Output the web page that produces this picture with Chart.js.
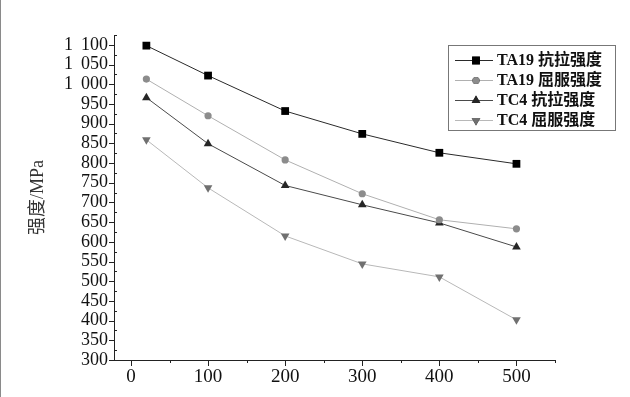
<!DOCTYPE html>
<html lang="zh">
<head>
  <meta charset="UTF-8">
  <title>强度 vs 温度</title>
  <script src="https://cdn.jsdelivr.net/npm/chart.js"></script>
  <style>
    html, body { margin: 0; padding: 0; background: #fff; }
    .wrap { position: relative; width: 630px; height: 397px; }
    .edge { position: absolute; left: 0; top: 0; width: 1px; height: 397px; background: #8a8a8a; }
  </style>
</head>
<body>
  <div class="wrap">
    <canvas id="strengthChart" width="630" height="397"></canvas>
    <div class="edge"></div>
  </div>

  <script>
    // temperatures (x) and strengths (MPa)
    const temps = [20, 100, 200, 300, 400, 500];
    const ta19Tensile = [1098, 1022, 932, 874, 826, 798];
    const ta19Yield = [1013, 920, 808, 722, 656, 633];
    const tc4Tensile = [966, 849, 743, 694, 648, 587];
    const tc4Yield = [859, 737, 615, 544, 511, 402];

    const seriesNames = ['TA19 抗拉强度', 'TA19 屈服强度', 'TC4 抗拉强度', 'TC4 屈服强度'];
    const xTicks = [0, 100, 200, 300, 400, 500];
    const yTicks = [300, 350, 400, 450, 500, 550, 600, 650, 700, 750, 800, 850, 900, 950, 1000, 1050, 1100];

    const serif = "'Liberation Serif', 'Times New Roman', serif";
    const cjk = "'Liberation Serif', 'Noto Sans CJK SC', serif";

    function toPoints(values) {
      return temps.map((t, i) => ({ x: t, y: values[i] }));
    }

    // "1 100" style, a little wider gap after the thousands digit
    function fmtThousands(v) {
      return v >= 1000 ? Math.floor(v / 1000) + ' \u2009' + String(v % 1000).padStart(3, '0') : String(v);
    }

    // major ticks outward, minor ticks (half steps) small
    const tickMarks = {
      id: 'tickMarks',
      afterDraw(chart) {
        const ctx = chart.ctx;
        const xs = chart.scales.x, ys = chart.scales.y;
        const area = chart.chartArea;
        ctx.save();
        ctx.strokeStyle = '#222';
        ctx.lineWidth = 1;
        ctx.beginPath();
        for (let v = 300; v <= 1125; v += 25) {
          const py = Math.round(ys.getPixelForValue(v)) + 0.5;
          if (v % 50 === 0) {
            ctx.moveTo(area.left - 5, py); ctx.lineTo(area.left, py);
          } else {
            ctx.moveTo(area.left, py); ctx.lineTo(area.left + 3, py);
          }
        }
        for (let v = 0; v <= 550; v += 50) {
          const px = Math.round(xs.getPixelForValue(v)) + 0.5;
          if (v % 100 === 0) {
            ctx.moveTo(px, area.bottom); ctx.lineTo(px, area.bottom + 6);
          } else {
            ctx.moveTo(px, area.bottom); ctx.lineTo(px, area.bottom + 3);
          }
        }
        ctx.stroke();
        ctx.restore();
      }
    };

    // boxed legend in the upper right corner
    const boxLegend = {
      id: 'boxLegend',
      afterDraw(chart) {
        const ctx = chart.ctx;
        const left = 448, top = 45, w = 167, h = 85;
        ctx.save();
        ctx.strokeStyle = '#777';
        ctx.lineWidth = 1;
        ctx.strokeRect(left + 0.5, top + 0.5, w, h);
        chart.data.datasets.forEach((ds, i) => {
          const y = top + 15 + i * 20;
          ctx.strokeStyle = ds.borderColor;
          ctx.lineWidth = 1;
          ctx.beginPath();
          ctx.moveTo(left + 7, y + 0.5);
          ctx.lineTo(left + 45, y + 0.5);
          ctx.stroke();
          Chart.helpers.drawPoint(ctx, {
            pointStyle: ds.pointStyle,
            radius: ds.pointRadius,
            rotation: ds.pointRotation || 0,
            borderWidth: 0
          }, left + 28, y + 0.5);
          ctx.fillStyle = ds.pointBackgroundColor;
          ctx.fill();
          ctx.fillStyle = '#111';
          ctx.font = 'bold 16px ' + cjk;
          ctx.textBaseline = 'middle';
          ctx.fillText(ds.label, left + 49, y + 1);
        });
        ctx.restore();
      }
    };

    function makeSet(label, values, line, fill, style, radius, rotation) {
      return {
        label: label,
        data: toPoints(values),
        borderColor: line,
        borderWidth: 1,
        pointStyle: style,
        pointRadius: radius,
        pointRotation: rotation,
        pointBackgroundColor: fill,
        pointBorderColor: fill,
        pointBorderWidth: 0,
        tension: 0
      };
    }

    const ctx = document.getElementById('strengthChart').getContext('2d');
    new Chart(ctx, {
      type: 'line',
      data: {
        datasets: [
          makeSet(seriesNames[0], ta19Tensile, '#2a2a2a', '#000', 'rect', 5.5, 0),
          makeSet(seriesNames[1], ta19Yield, '#b0b0b0', '#8c8c8c', 'circle', 3.6, 0),
          makeSet(seriesNames[2], tc4Tensile, '#4a4a4a', '#262626', 'triangle', 5, 0),
          makeSet(seriesNames[3], tc4Yield, '#b8b8b8', '#707070', 'triangle', 5, 180)
        ]
      },
      options: {
        responsive: false,
        animation: false,
        layout: { padding: { left: 0, right: 75, top: 35, bottom: 0 } },
        plugins: {
          legend: { display: false },
          tooltip: { enabled: false }
        },
        scales: {
          x: {
            type: 'linear',
            min: -22,
            max: 550,
            afterBuildTicks: scale => { scale.ticks = xTicks.map(v => ({ value: v })); },
            afterFit: scale => { scale.height = 37; },
            grid: { display: false, drawTicks: false },
            border: { display: true, color: '#222', width: 1 },
            ticks: {
              padding: 6,
              color: '#111',
              autoSkip: false,
              font: { family: serif, size: 19 },
              maxRotation: 0
            }
          },
          y: {
            min: 300,
            max: 1125,
            afterBuildTicks: scale => { scale.ticks = yTicks.map(v => ({ value: v })); },
            afterFit: scale => { scale.width = 114; },
            grid: { display: false, drawTicks: false },
            border: { display: true, color: '#222', width: 1 },
            title: {
              display: true,
              text: '强度/MPa',
              color: '#333',
              font: { family: cjk, size: 18 },
              padding: { top: 27, bottom: 0 }
            },
            ticks: {
              padding: 6,
              color: '#111',
              autoSkip: false,
              font: { family: serif, size: 18 },
              callback: v => fmtThousands(v)
            }
          }
        }
      },
      plugins: [tickMarks, boxLegend]
    });
  </script>
</body>
</html>
